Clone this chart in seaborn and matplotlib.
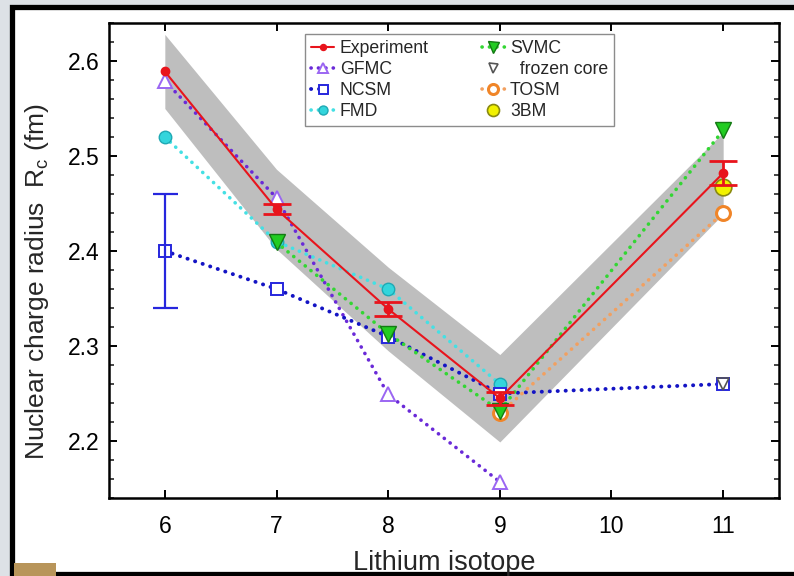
import matplotlib
matplotlib.use("Agg")
import matplotlib.pyplot as plt
from matplotlib.patches import Rectangle
from matplotlib.ticker import MultipleLocator
import numpy as np
import pandas as pd
import seaborn as sns

# Lithium charge radii (fm): experiment and theory
exp_A = [6, 7, 8, 9, 11]
exp_rc = [2.589, 2.444, 2.339, 2.245, 2.482]
exp_err_stat = [0.0, 0.005, 0.007, 0.007, 0.013]
exp_err_total = [0.039, 0.042, 0.044, 0.046, 0.043]

gfmc_A = [6, 7, 8, 9]
gfmc_rc = [2.579, 2.456, 2.249, 2.157]

ncsm_A = [6, 7, 8, 9, 11]
ncsm_rc = [2.40, 2.36, 2.31, 2.25, 2.26]
ncsm_err = [0.06, 0.0, 0.0, 0.0, 0.0]

fmd_A = [6, 7, 8, 9]
fmd_rc = [2.52, 2.41, 2.36, 2.26]

svmc_A = [7, 8, 9, 11]
svmc_rc = [2.409, 2.313, 2.232, 2.527]

frozen_A = [11]
frozen_rc = [2.26]

tosm_A = [9, 11]
tosm_rc = [2.229, 2.44]

bm3_A = [11]
bm3_rc = [2.467]

x_ticks = [6, 7, 8, 9, 10, 11]
y_ticks = [2.2, 2.3, 2.4, 2.5, 2.6]

sns.set_theme(style="ticks")
plt.rcParams["font.family"] = ["Liberation Sans", "DejaVu Sans"]

fig = plt.figure(figsize=(7.94, 5.76), dpi=100)
fig.patch.set_facecolor("#dde1e6")

# white panel with a heavy black border, kept behind the axes
fig.patches.append(Rectangle((11.5 / 794, 2.0 / 576), 1.2, (576 - 8.5) / 576,
                             transform=fig.transFigure, facecolor="white",
                             edgecolor="black", linewidth=3.8, zorder=-2))
fig.patches.append(Rectangle((14 / 794, 0), 42 / 794, 13 / 576,
                             transform=fig.transFigure, facecolor="#b8955a",
                             edgecolor="none", zorder=-1))

ax = fig.add_axes([109 / 794, 78 / 576, 670 / 794, 475 / 576])
ax.set_facecolor("none")

dotted = (0, (0.05, 2.0))

def df_of(A, rc):
    return pd.DataFrame({"A": A, "Rc": rc})

# total experimental uncertainty band
ax.fill_between(exp_A, np.array(exp_rc) - np.array(exp_err_total),
                np.array(exp_rc) + np.array(exp_err_total),
                color="#bebebe", linewidth=0, zorder=1)

sns.lineplot(data=df_of(exp_A, exp_rc), x="A", y="Rc", ax=ax, color="#e8141c",
             linewidth=1.5, marker="o", markersize=6, markerfacecolor="#e8141c",
             markeredgecolor="#e8141c", markeredgewidth=1, label="Experiment",
             zorder=7)
sns.lineplot(data=df_of(gfmc_A, gfmc_rc), x="A", y="Rc", ax=ax, color="#6a2ad8",
             linewidth=2.6, linestyle=dotted, dash_capstyle="round", marker="^",
             markersize=10, markerfacecolor="white", markeredgecolor="#9b66f2",
             markeredgewidth=1.4, label="GFMC", zorder=3)
sns.lineplot(data=df_of(ncsm_A, ncsm_rc), x="A", y="Rc", ax=ax, color="#1414c4",
             linewidth=2.8, linestyle=dotted, dash_capstyle="round", marker="s",
             markersize=9, markerfacecolor="white", markeredgecolor="#2626dd",
             markeredgewidth=1.4, label="NCSM", zorder=4)
sns.lineplot(data=df_of(fmd_A, fmd_rc), x="A", y="Rc", ax=ax, color="#44e0e4",
             linewidth=2.6, linestyle=dotted, dash_capstyle="round", marker="o",
             markersize=9, markerfacecolor="#33d5dc", markeredgecolor="#1fa9b4",
             markeredgewidth=1.0, label="FMD", zorder=3)
sns.lineplot(data=df_of(svmc_A, svmc_rc), x="A", y="Rc", ax=ax, color="#33d633",
             linewidth=2.6, linestyle=dotted, dash_capstyle="round", marker="v",
             markersize=11, markerfacecolor="#22cc22", markeredgecolor="#137a13",
             markeredgewidth=1.0, label="SVMC", zorder=5)
sns.lineplot(data=df_of(frozen_A, frozen_rc), x="A", y="Rc", ax=ax, color="#555555",
             linestyle="none", marker="v", markersize=9, markerfacecolor="none",
             markeredgecolor="#555555", markeredgewidth=1.2,
             label="  frozen core", zorder=6)
sns.lineplot(data=df_of(tosm_A, tosm_rc), x="A", y="Rc", ax=ax, color="#f2a060",
             linewidth=2.6, linestyle=dotted, dash_capstyle="round", marker="o",
             markersize=10, markerfacecolor="white", markeredgecolor="#f08528",
             markeredgewidth=2.2, label="TOSM", zorder=4)
sns.lineplot(data=df_of(bm3_A, bm3_rc), x="A", y="Rc", ax=ax, color="#8a8a00",
             linestyle="none", marker="o", markersize=12, markerfacecolor="#f2f200",
             markeredgecolor="#8a8a10", markeredgewidth=1.2, label="3BM", zorder=5)

# statistical error bars
ax.errorbar(exp_A[1:], exp_rc[1:], yerr=exp_err_stat[1:], fmt="none",
            ecolor="#e8141c", elinewidth=2, capsize=10, capthick=2, zorder=7)
ax.errorbar(ncsm_A[:1], ncsm_rc[:1], yerr=ncsm_err[:1], fmt="none",
            ecolor="#2626dd", elinewidth=1.6, capsize=9, capthick=1.6, zorder=4)

ax.set_xlim(5.5, 11.5)
ax.set_ylim(2.14, 2.64)
ax.set_xticks(x_ticks)
ax.set_yticks(y_ticks)
ax.yaxis.set_minor_locator(MultipleLocator(0.02))
ax.set_xticklabels([str(v) for v in x_ticks])
ax.set_yticklabels([f"{v:.1f}" for v in y_ticks])
ax.tick_params(axis="both", which="major", direction="in", length=6, width=1.4,
               labelsize=16.5, colors="black", top=True, right=True)
ax.tick_params(axis="x", which="major", pad=12)
ax.tick_params(axis="y", which="major", pad=7)
ax.tick_params(axis="y", which="minor", direction="in", length=3.5, width=1.2,
               right=True, left=True)
for s in ax.spines.values():
    s.set_visible(True)
    s.set_linewidth(1.8)
    s.set_color("black")

ax.set_xlabel("Lithium isotope", fontsize=19.5)
ax.set_ylabel(r"Nuclear charge radius  R$_\mathregular{c}$ (fm)", fontsize=19)
ax.xaxis.set_label_coords(0.5, -0.109)
ax.yaxis.set_label_coords(-0.086, 0.455)

leg = ax.legend(loc="upper left", bbox_to_anchor=(0.293, 0.977), ncol=2,
                fontsize=12.7, frameon=True, fancybox=False, framealpha=1,
                edgecolor="#8c8c8c", handlelength=1.3, handletextpad=0.3,
                labelspacing=0.22, columnspacing=3.0, borderpad=0.35,
                borderaxespad=0, markerscale=0.72)
leg.get_frame().set_linewidth(1.0)

fig.savefig("out.png", dpi=100, facecolor=fig.get_facecolor())
